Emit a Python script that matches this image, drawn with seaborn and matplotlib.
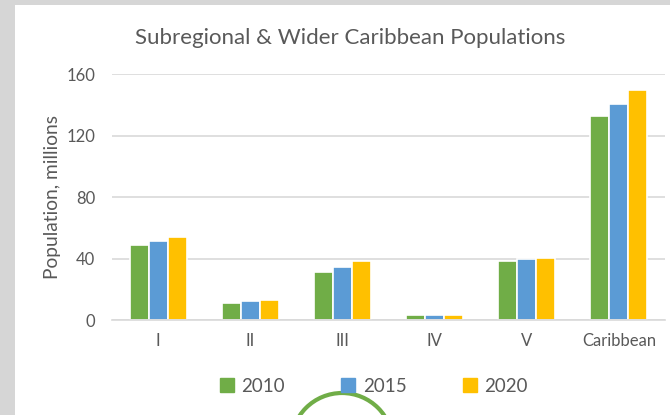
import matplotlib
matplotlib.use('Agg')
import matplotlib.pyplot as plt
import matplotlib.patches as mpatches
import seaborn as sns
import pandas as pd

regions = ['I', 'II', 'III', 'IV', 'V', 'Caribbean']
years = ['2010', '2015', '2020']
pop_2010 = [48.8, 11.3, 31.0, 3.2, 38.4, 132.7]
pop_2015 = [51.2, 12.4, 34.3, 3.2, 39.7, 140.5]
pop_2020 = [54.0, 13.0, 38.4, 3.2, 40.5, 149.8]
colors = {'2010': '#70AD47', '2015': '#5B9BD5', '2020': '#FFC000'}

df = pd.DataFrame({
    'Region': regions * 3,
    'Year': [y for y in years for _ in regions],
    'Population': pop_2010 + pop_2015 + pop_2020,
})

sns.set_style('white')
plt.rcParams['font.family'] = ['Lato', 'DejaVu Sans']
text_col = '#595959'

fig = plt.figure(figsize=(6.7, 4.15), dpi=100, facecolor='#d6d6d6')
# white chart card over the grey screenshot background
card = fig.add_axes([15 / 670, 0, 1 - 15 / 670, 1 - 5 / 415])
card.set_facecolor('white')
card.set_xticks([])
card.set_yticks([])
for s in card.spines.values():
    s.set_visible(False)
card.set_zorder(0)

ax = fig.add_axes([112 / 670, 1 - 320 / 415, 553 / 670, 246 / 415])
ax.set_zorder(2)
ax.patch.set_alpha(0)

sns.barplot(data=df, x='Region', y='Population', hue='Year', palette=colors, saturation=1,
            width=0.62, edgecolor='white', linewidth=1.2, ax=ax, legend=False)

ax.set_xlim(-0.5, 5.5)
ax.set_ylim(0, 160)
ax.set_yticks([0, 40, 80, 120, 160])
ax.yaxis.grid(True, color='#d9d9d9', linewidth=1.2)
ax.set_axisbelow(True)
for s in ['top', 'right', 'left']:
    ax.spines[s].set_visible(False)
ax.spines['bottom'].set_color('#d9d9d9')
ax.spines['bottom'].set_linewidth(1.2)
ax.tick_params(length=0, labelsize=12, colors=text_col, pad=9)
ax.tick_params(axis='y', pad=12)
ax.set_xlabel('')
ax.set_ylabel('Population, millions', fontsize=13.8, color=text_col, labelpad=4)

fig.text(350 / 670, 1 - 38 / 415, 'Subregional & Wider Caribbean Populations',
         ha='center', va='center', fontsize=16, color=text_col, zorder=3)

handles = [mpatches.Patch(color=colors[y], label=y) for y in years]
fig.legend(handles=handles, loc='center', bbox_to_anchor=(374 / 670, 1 - 386 / 415),
           ncol=3, frameon=False, fontsize=13.5, labelcolor=text_col,
           handlelength=0.75, handleheight=0.75, handletextpad=0.4, columnspacing=3.0)

# partially visible green circle at the bottom of the screenshot
fig.patches.append(mpatches.Ellipse((342 / 670, 1 - 444 / 415), 102 / 670, 102 / 415,
                                    transform=fig.transFigure, facecolor='none',
                                    edgecolor='#70AD47', linewidth=3, zorder=3))

plt.savefig('out.png', dpi=100, facecolor=fig.get_facecolor())
plt.close()
